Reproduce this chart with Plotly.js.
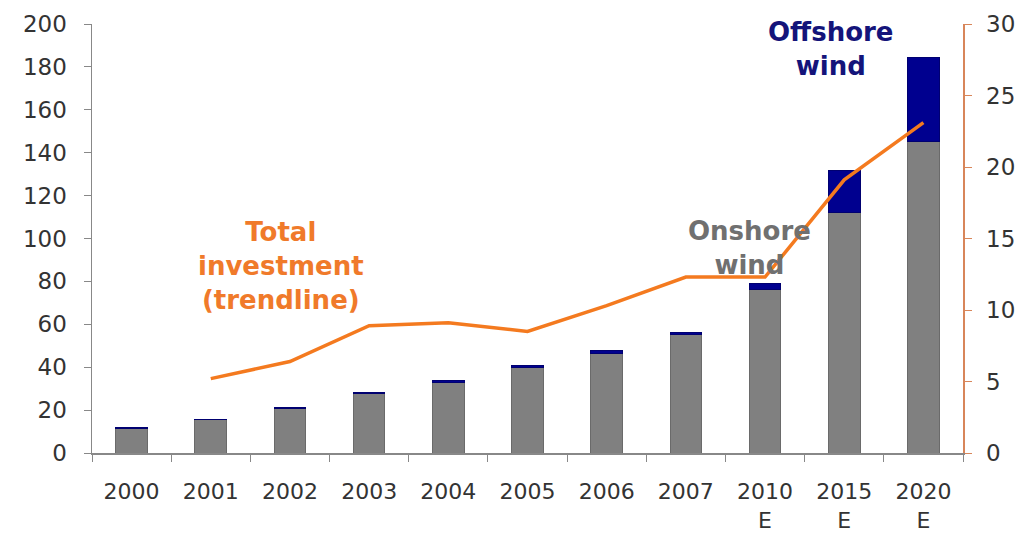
<!DOCTYPE html>
<html>
<head>
<meta charset="utf-8">
<script src="https://cdn.plot.ly/plotly-3.0.1.min.js"></script>
<style>html,body{margin:0;padding:0;background:#fff}#chart{width:1021px;height:533px}</style>
</head>
<body>
<div id="chart"></div>
<script>
var categories = ["2000","2001","2002","2003","2004","2005","2006","2007","2010E","2015E","2020E"];
var tickLabels = ["2000","2001","2002","2003","2004","2005","2006","2007","2010<br>E","2015<br>E","2020<br>E"];
var onshore = [11.4, 15.4, 20.8, 27.6, 32.8, 39.8, 46.6, 55.4, 76.0, 112.2, 145.1];
var offshore = [0.3, 0.4, 0.5, 0.6, 0.9, 0.8, 1.4, 1.0, 3.0, 19.4, 39.4];
var totalInvestment = [null, 5.2, 6.4, 8.9, 9.1, 8.5, 10.3, 12.3, 12.3, 19.1, 23.1];

var font = "DejaVu Sans, Verdana, sans-serif";
var traces = [
  {type:"bar", name:"Onshore wind", x:categories, y:onshore, marker:{color:"#808080", line:{color:"#6a6a6a", width:1}}, hoverinfo:"y"},
  {type:"bar", name:"Offshore wind", x:categories, y:offshore, marker:{color:"#00008f", line:{color:"#000070", width:1}}, hoverinfo:"y"},
  {type:"scatter", mode:"lines", name:"Total investment", x:categories, y:totalInvestment, yaxis:"y2", line:{color:"#f47a1f", width:3.5}, connectgaps:false}
];
var layout = {
  width:1021, height:533,
  margin:{l:92, r:58, t:24, b:80},
  barmode:"stack", bargap:0.6,
  showlegend:false,
  paper_bgcolor:"#fff", plot_bgcolor:"#fff",
  font:{family:font, size:23, color:"#333"},
  xaxis:{type:"category", tickvals:categories, ticktext:tickLabels, tickson:"boundaries",
    ticks:"outside", ticklen:7, tickcolor:"#888", showline:true, linecolor:"#888", linewidth:1.5,
    showgrid:false, tickfont:{size:22, color:"#333"}, ticklabelstandoff:18, fixedrange:true},
  yaxis:{range:[0,200], dtick:20, ticks:"outside", ticklen:7, tickcolor:"#888", showline:true,
    linecolor:"#888", linewidth:1.5, showgrid:false, zeroline:false, tickfont:{size:23, color:"#333"},
    ticklabelstandoff:12},
  yaxis2:{range:[0,30], dtick:5, overlaying:"y", side:"right", ticks:"outside", ticklen:7,
    tickcolor:"#d8865a", showline:true, linecolor:"#d8865a", linewidth:1.5, showgrid:false,
    zeroline:false, tickfont:{size:23, color:"#333"}, ticklabelstandoff:10},
  annotations:[
    {xref:"paper", yref:"paper", x:0.848, y:0.942, text:"<b>Offshore<br>wind</b>", showarrow:false,
     font:{family:font, size:26, color:"#14147a"}, align:"center", xanchor:"center", yanchor:"middle"},
    {xref:"paper", yref:"paper", x:0.755, y:0.478, text:"<b>Onshore<br>wind</b>", showarrow:false,
     font:{family:font, size:26, color:"#707070"}, align:"center", xanchor:"center", yanchor:"middle"},
    {xref:"paper", yref:"paper", x:0.217, y:0.436, text:"<b>Total<br>investment<br>(trendline)</b>", showarrow:false,
     font:{family:font, size:26, color:"#f07a2a"}, align:"center", xanchor:"center", yanchor:"middle"}
  ]
};
Plotly.newPlot("chart", traces, layout, {displayModeBar:false, staticPlot:true});
</script>
</body>
</html>
